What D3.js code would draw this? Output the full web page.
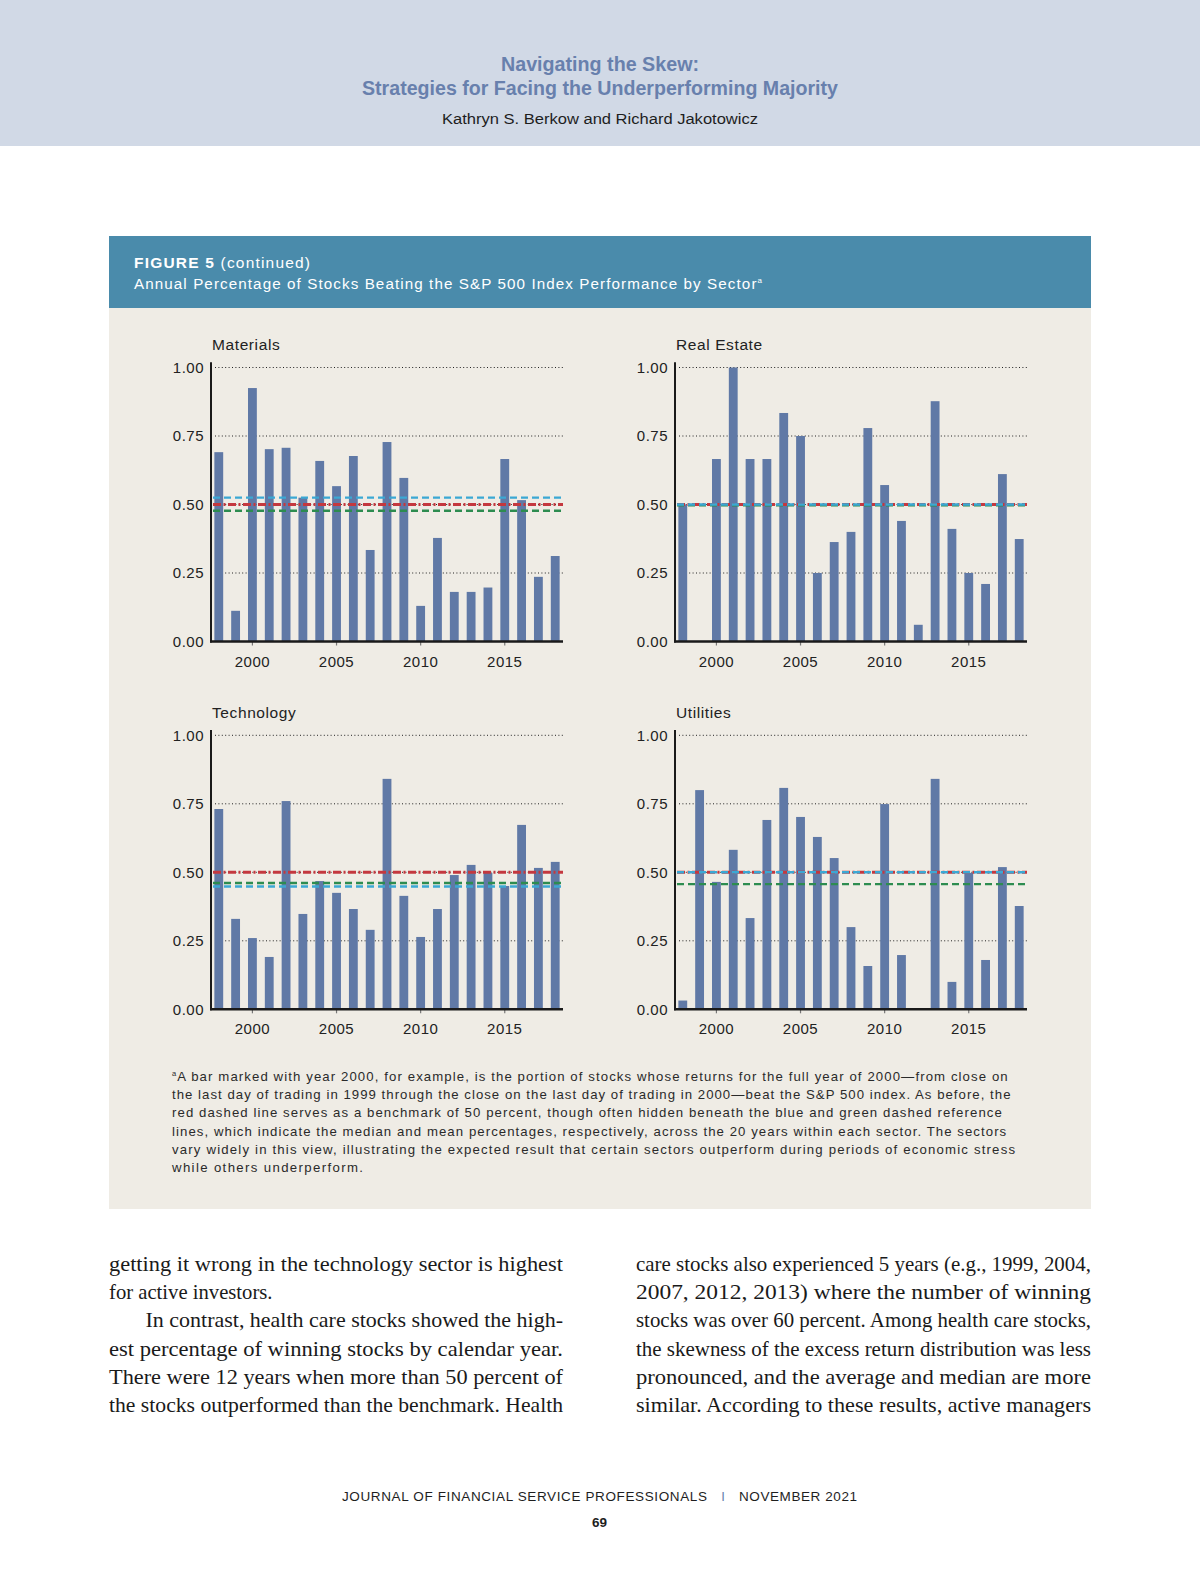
<!DOCTYPE html>
<html lang="en">
<head>
<meta charset="UTF-8" />
<title>Figure 5 (continued) – Annual Percentage of Stocks Beating the S&amp;P 500</title>
<script src="https://d3js.org/d3.v7.min.js"></script>
<style>
  body { margin: 0; background: #fff; }
  svg { display: block; }
  text { font-family: "Liberation Sans", Arial, sans-serif; }
  .serif { font-family: "Liberation Serif", "Times New Roman", serif; }
</style>
</head>
<body>
<svg width="1200" height="1582"></svg>
<script>
// ---- data ----
const years = [1998, 1999, 2000, 2001, 2002, 2003, 2004, 2005, 2006, 2007, 2008,
               2009, 2010, 2011, 2012, 2013, 2014, 2015, 2016, 2017, 2018];
const sectors = ["Materials", "Real Estate", "Technology", "Utilities"];

const materials  = [0.691, 0.112, 0.925, 0.702, 0.707, 0.525, 0.659, 0.567, 0.677, 0.334, 0.728,
                    0.597, 0.130, 0.378, 0.181, 0.181, 0.197, 0.666, 0.516, 0.236, 0.312];
const realEstate = [0.500, 0.000, 0.666, 1.000, 0.666, 0.666, 0.834, 0.750, 0.250, 0.363, 0.400,
                    0.779, 0.571, 0.440, 0.061, 0.877, 0.411, 0.250, 0.210, 0.611, 0.374];
const technology = [0.731, 0.330, 0.260, 0.191, 0.760, 0.348, 0.468, 0.425, 0.366, 0.290, 0.841,
                    0.414, 0.264, 0.366, 0.490, 0.527, 0.498, 0.450, 0.673, 0.516, 0.538];
const utilities  = [0.032, 0.800, 0.465, 0.582, 0.333, 0.691, 0.808, 0.702, 0.629, 0.552, 0.300,
                    0.158, 0.749, 0.198, 0.000, 0.841, 0.100, 0.498, 0.180, 0.519, 0.377];

const medians = [0.525, 0.500, 0.448, 0.500];   // blue dashed
const means   = [0.477, 0.497, 0.461, 0.457];   // green dashed
const benchmark = 0.5;                           // red dash-dot

const yTicks = [0, 0.25, 0.5, 0.75, 1];
const xTickYears = [2000, 2005, 2010, 2015];

// ---- colours ----
const barColor = "#6079a6";
const blueLine = "#3ba8d4";
const greenLine = "#2d8c50";
const redLine = "#c4383f";

const svg = d3.select("svg");

// page header band
svg.append("rect").attr("x", 0).attr("y", 0).attr("width", 1200).attr("height", 146)
  .attr("fill", "#d1d9e6");
svg.append("text").attr("x", 600).attr("y", 71).attr("text-anchor", "middle")
  .attr("font-size", 19.5).attr("font-weight", "bold").attr("fill", "#6880ad")
  .attr("textLength", 198).attr("lengthAdjust", "spacingAndGlyphs")
  .text("Navigating the Skew:");
svg.append("text").attr("x", 600).attr("y", 95).attr("text-anchor", "middle")
  .attr("font-size", 19.5).attr("font-weight", "bold").attr("fill", "#6880ad")
  .attr("textLength", 476).attr("lengthAdjust", "spacingAndGlyphs")
  .text("Strategies for Facing the Underperforming Majority");
svg.append("text").attr("x", 600).attr("y", 124).attr("text-anchor", "middle")
  .attr("font-size", 15.5).attr("fill", "#1e1e1e")
  .attr("textLength", 316).attr("lengthAdjust", "spacingAndGlyphs")
  .text("Kathryn S. Berkow and Richard Jakotowicz");

// figure box
svg.append("rect").attr("x", 109).attr("y", 236).attr("width", 982).attr("height", 973)
  .attr("fill", "#efece5");
svg.append("rect").attr("x", 109).attr("y", 236).attr("width", 982).attr("height", 72)
  .attr("fill", "#4a8bab");

const fig = svg.append("text").attr("x", 134).attr("y", 268)
  .attr("font-size", 15.5).attr("fill", "#fff")
  .attr("textLength", 176).attr("lengthAdjust", "spacing");
fig.append("tspan").attr("font-weight", "bold").text("FIGURE 5");
fig.append("tspan").text(" (continued)");

const sub = svg.append("text").attr("x", 134).attr("y", 288.5)
  .attr("font-size", 15.2).attr("fill", "#fff")
  .attr("textLength", 628).attr("lengthAdjust", "spacing");
sub.append("tspan").text("Annual Percentage of Stocks Beating the S&P 500 Index Performance by Sector");
sub.append("tspan").attr("font-size", 8).attr("dy", -6).text("a");

// ---- panels ----
const panelW = 352, panelH = 274;
const origins = [[211, 367.5], [675, 367.5], [211, 735.3], [675, 735.3]];
const series = [materials, realEstate, technology, utilities];

sectors.forEach((name, i) => {
  const g = svg.append("g")
    .attr("transform", `translate(${origins[i][0]},${origins[i][1]})`);
  const values = series[i];

  const x = d3.scaleBand().domain(years).range([0, panelW])
    .paddingInner(0.475).paddingOuter(0.2);
  const y = d3.scaleLinear().domain([0, 1]).range([panelH, 0]);

  // title
  g.append("text").attr("x", 1).attr("y", -17.5)
    .attr("font-size", 15.5).attr("fill", "#222").attr("letter-spacing", 0.6)
    .text(name);

  // dotted gridlines
  g.append("g").selectAll("line")
    .data(yTicks.filter(t => t > 0))
    .join("line")
    .attr("x1", 4).attr("x2", panelW)
    .attr("y1", d => y(d)).attr("y2", d => y(d))
    .attr("stroke", "#222").attr("stroke-width", 1)
    .attr("stroke-dasharray", "1,2.4");

  // bars
  g.append("g").selectAll("rect")
    .data(years.map((yr, k) => ({ yr, v: values[k] })))
    .join("rect")
    .attr("x", d => x(d.yr))
    .attr("y", d => y(d.v))
    .attr("width", x.bandwidth())
    .attr("height", d => panelH - y(d.v))
    .attr("fill", barColor);

  // reference lines: red benchmark under green mean under blue median
  const ref = [
    { v: benchmark, c: redLine, w: 3, dash: "8,2.5,2,2.5" },
    { v: means[i], c: greenLine, w: 2.4, dash: "7,4" },
    { v: medians[i], c: blueLine, w: 2.4, dash: "7,4" }
  ];
  g.append("g").selectAll("line")
    .data(ref)
    .join("line")
    .attr("x1", 2).attr("x2", panelW)
    .attr("y1", d => y(d.v)).attr("y2", d => y(d.v))
    .attr("stroke", d => d.c).attr("stroke-width", d => d.w)
    .attr("stroke-dasharray", d => d.dash);

  // y axis labels
  const yAxis = g.append("g")
    .call(d3.axisLeft(y).tickValues(yTicks).tickFormat(d3.format(".2f"))
      .tickSize(0).tickPadding(7));
  yAxis.select(".domain").remove();
  yAxis.selectAll("text").attr("font-size", 15).attr("fill", "#222")
    .attr("letter-spacing", 0.5)
    .style("font-family", '"Liberation Sans", Arial, sans-serif');

  // x axis
  const xAxis = g.append("g").attr("transform", `translate(0,${panelH})`)
    .call(d3.axisBottom(x).tickValues(xTickYears).tickSize(4).tickSizeOuter(0)
      .tickPadding(10.5));
  xAxis.select(".domain").remove();
  xAxis.selectAll(".tick line").attr("stroke", "#777").attr("stroke-width", 1.2);
  xAxis.selectAll("text").attr("font-size", 15).attr("fill", "#222")
    .attr("letter-spacing", 0.5)
    .style("font-family", '"Liberation Sans", Arial, sans-serif');

  // axis lines
  g.append("line").attr("x1", 0).attr("x2", 0).attr("y1", -5.2).attr("y2", panelH + 1)
    .attr("stroke", "#1a1a1a").attr("stroke-width", 2);
  g.append("line").attr("x1", -1).attr("x2", panelW).attr("y1", panelH).attr("y2", panelH)
    .attr("stroke", "#1a1a1a").attr("stroke-width", 2.5);
});

// ---- footnote ----
const footLines = [
  "A bar marked with year 2000, for example, is the portion of stocks whose returns for the full year of 2000\u2014from close on",
  "the last day of trading in 1999 through the close on the last day of trading in 2000\u2014beat the S&P 500 index. As before, the",
  "red dashed line serves as a benchmark of 50 percent, though often hidden beneath the blue and green dashed reference",
  "lines, which indicate the median and mean percentages, respectively, across the 20 years within each sector. The sectors",
  "vary widely in this view, illustrating the expected result that certain sectors outperform during periods of economic stress",
  "while others underperform."
];
const footEnds = [1007.7, 1010.5, 1001.8, 1006.2, 1015, 363];
footLines.forEach((line, i) => {
  const t = svg.append("text").attr("x", 172).attr("y", 1080.7 + i * 18.33)
    .attr("font-size", 13.2).attr("fill", "#2a2a2a")
    .attr("textLength", footEnds[i] - 172).attr("lengthAdjust", "spacing");
  if (i === 0) {
    t.append("tspan").attr("font-size", 7.5).attr("dy", -4.5).text("a");
    t.append("tspan").attr("dy", 4.5).text(line);
  } else {
    t.text(line);
  }
});

// ---- body text (two justified columns) ----
const leftCol = [
  "getting it wrong in the technology sector is highest",
  "for active investors.",
  "In contrast, health care stocks showed the high-",
  "est percentage of winning stocks by calendar year.",
  "There were 12 years when more than 50 percent of",
  "the stocks outperformed than the benchmark. Health"
];
const rightCol = [
  "care stocks also experienced 5 years (e.g., 1999, 2004,",
  "2007, 2012, 2013) where the number of winning",
  "stocks was over 60 percent. Among health care stocks,",
  "the skewness of the excess return distribution was less",
  "pronounced, and the average and median are more",
  "similar. According to these results, active managers"
];
const leftStart = [109, 109, 145.5, 109, 109, 109];
const leftEnd = [563, 272.5, 563, 563, 563, 563];

function bodyLine(str, x0, x1, yy) {
  svg.append("text").attr("class", "serif")
    .attr("x", x0).attr("y", yy)
    .attr("font-size", 21).attr("fill", "#1a1a1a")
    .attr("textLength", x1 - x0).attr("lengthAdjust", "spacingAndGlyphs")
    .style("font-family", '"Liberation Serif", "Times New Roman", serif')
    .text(str);
}
leftCol.forEach((s, i) => bodyLine(s, leftStart[i], leftEnd[i], 1271 + i * 28.2));
rightCol.forEach((s, i) => bodyLine(s, 636, 1091, 1271 + i * 28.2));

// ---- page footer ----
svg.append("text").attr("x", 342).attr("y", 1501)
  .attr("font-size", 13.5).attr("fill", "#1e1e1e")
  .attr("textLength", 365).attr("lengthAdjust", "spacing")
  .text("JOURNAL OF FINANCIAL SERVICE PROFESSIONALS");
svg.append("text").attr("x", 723).attr("y", 1501).attr("text-anchor", "middle")
  .attr("font-size", 13).attr("fill", "#6880ad").text("I");
svg.append("text").attr("x", 739).attr("y", 1501)
  .attr("font-size", 13.5).attr("fill", "#1e1e1e")
  .attr("textLength", 118).attr("lengthAdjust", "spacing")
  .text("NOVEMBER 2021");
svg.append("text").attr("x", 599.5).attr("y", 1527).attr("text-anchor", "middle")
  .attr("font-size", 13.5).attr("font-weight", "bold").attr("fill", "#1e1e1e")
  .text("69");
</script>
</body>
</html>
